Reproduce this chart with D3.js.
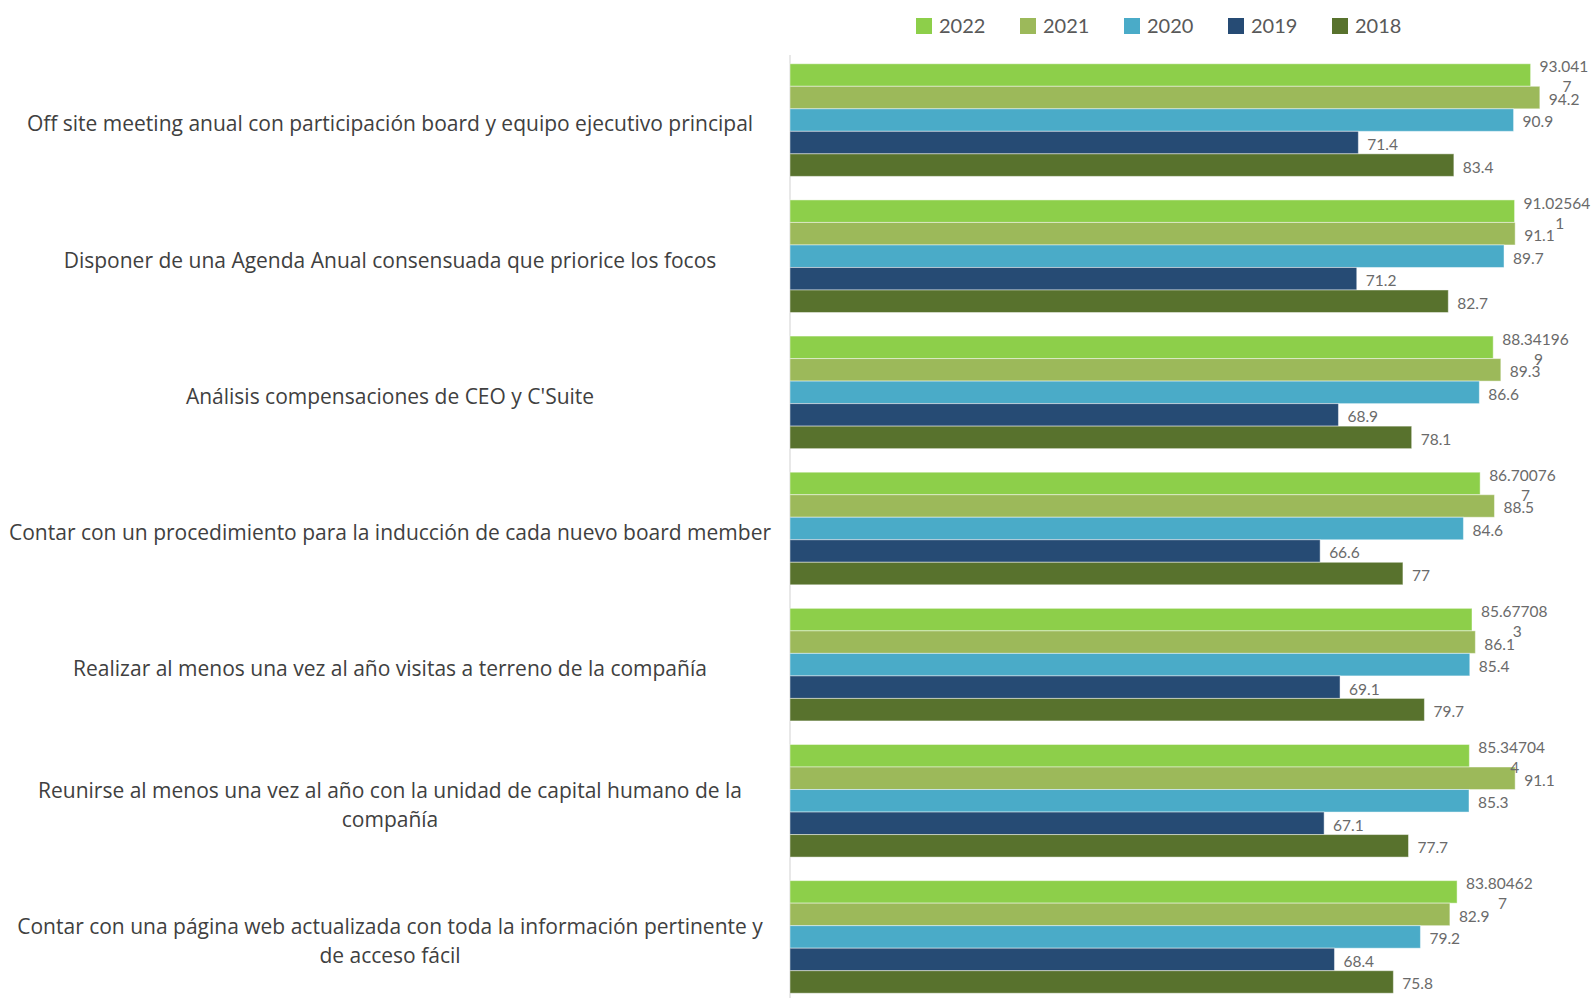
<!DOCTYPE html>
<html>
<head>
<meta charset="utf-8">
<script src="https://cdn.jsdelivr.net/npm/d3@7"></script>
<style>
  html, body { margin: 0; padding: 0; background: #ffffff; }
  svg { display: block; }
  text { font-family: Lato, "Open Sans", sans-serif; }
  .cat text { font-family: "Open Sans", Lato, sans-serif; }
</style>
</head>
<body>
<svg id="chart" width="1595" height="998"></svg>
<script>
// ---- Data ----
const categories = [
  "Off site meeting anual con participación board y equipo ejecutivo principal",
  "Disponer de una Agenda Anual consensuada que priorice los focos",
  "Análisis compensaciones de CEO y C'Suite",
  "Contar con un procedimiento para la inducción de cada nuevo board member",
  "Realizar al menos una vez al año visitas a terreno de la compañía",
  "Reunirse al menos una vez al año con la unidad de capital humano de la\ncompañía",
  "Contar con una página web actualizada con toda la información pertinente y\nde acceso fácil"
];
const years = ["2022", "2021", "2020", "2019", "2018"];
const values2022 = [93.0417, 91.025641, 88.341969, 86.700767, 85.677083, 85.347044, 83.804627];
const values2021 = [94.2, 91.1, 89.3, 88.5, 86.1, 91.1, 82.9];
const values2020 = [90.9, 89.7, 86.6, 84.6, 85.4, 85.3, 79.2];
const values2019 = [71.4, 71.2, 68.9, 66.6, 69.1, 67.1, 68.4];
const values2018 = [83.4, 82.7, 78.1, 77, 79.7, 77.7, 75.8];
const seriesValues = [values2022, values2021, values2020, values2019, values2018];
const colors = ["#8dcf4a", "#9cb95a", "#4aabc8", "#264b74", "#58722d"];

// ---- Layout ----
const W = 1595, H = 998;
const svg = d3.select("#chart");

const x = d3.scaleLinear().domain([0, 100]).range([790, 1586]);
const y = d3.scaleBand().domain(categories).range([52, 1005]).paddingInner(0.173).paddingOuter(0.0865);
const ySub = d3.scaleBand().domain(years).range([0, y.bandwidth()]).padding(0);

// axis line (category axis)
const yAxis = d3.axisLeft(y).tickSize(0).tickFormat("");
const axisG = svg.append("g").attr("transform", `translate(${x(0)},0)`).call(yAxis);
axisG.select(".domain").attr("stroke", "#d9d9d9").attr("stroke-width", 1.2)
  .attr("d", `M0,55V${H}`);

// bars
const rows = [];
categories.forEach((c, ci) => {
  years.forEach((yr, si) => {
    rows.push({ cat: c, year: yr, si: si, v: seriesValues[si][ci] });
  });
});

svg.append("g").selectAll("rect").data(rows).enter().append("rect")
  .attr("x", x(0))
  .attr("y", d => y(d.cat) + ySub(d.year))
  .attr("width", d => x(d.v) - x(0))
  .attr("height", ySub.bandwidth())
  .attr("fill", d => colors[d.si])
  .attr("stroke", "#ffffff")
  .attr("stroke-opacity", 0.45)
  .attr("stroke-width", 1);

// value labels
const lblG = svg.append("g").attr("fill", "#6a6a6a").attr("font-size", 15.5);
rows.forEach(d => {
  const lx = x(d.v) + 9;
  const cy = y(d.cat) + ySub(d.year) + ySub.bandwidth() / 2 + 2;
  const str = String(d.v);
  const t = lblG.append("text").attr("x", lx).attr("y", cy).attr("dy", "0.35em").text(str);
  // wrap like the original: max 8 chars per line, and keep inside the picture
  let n = Math.min(8, str.length);
  t.text(str.slice(0, n));
  while (n > 1 && lx + t.node().getComputedTextLength() > W - 1) {
    n--; t.text(str.slice(0, n));
  }
  if (n < str.length) {
    const w1 = t.node().getComputedTextLength();
    t.attr("y", cy - 10);
    lblG.append("text").attr("x", lx + w1 / 2 + 3).attr("y", cy + 10).attr("dy", "0.35em")
      .attr("text-anchor", "middle").text(str.slice(n));
  }
});

// category labels
const catG = svg.append("g").attr("class", "cat").attr("fill", "#404040")
  .attr("font-size", 21).attr("text-anchor", "middle");
categories.forEach(c => {
  const lines = c.split("\n");
  const cy = y(c) + y.bandwidth() / 2 + 4;
  const lh = 29;
  lines.forEach((ln, i) => {
    catG.append("text").attr("x", 390)
      .attr("y", cy + (i - (lines.length - 1) / 2) * lh)
      .attr("dy", "0.35em").text(ln);
  });
});

// legend
const legX = d3.scalePoint().domain(years).range([916, 1332]);
const leg = svg.append("g");
years.forEach((yr, i) => {
  const g = leg.append("g").attr("transform", `translate(${legX(yr)},26)`);
  g.append("rect").attr("x", 0).attr("y", -8).attr("width", 16).attr("height", 16).attr("fill", colors[i]);
  g.append("text").attr("x", 23).attr("y", 0).attr("dy", "0.35em")
    .attr("font-size", 20).attr("fill", "#595959").text(yr);
});
</script>
</body>
</html>
